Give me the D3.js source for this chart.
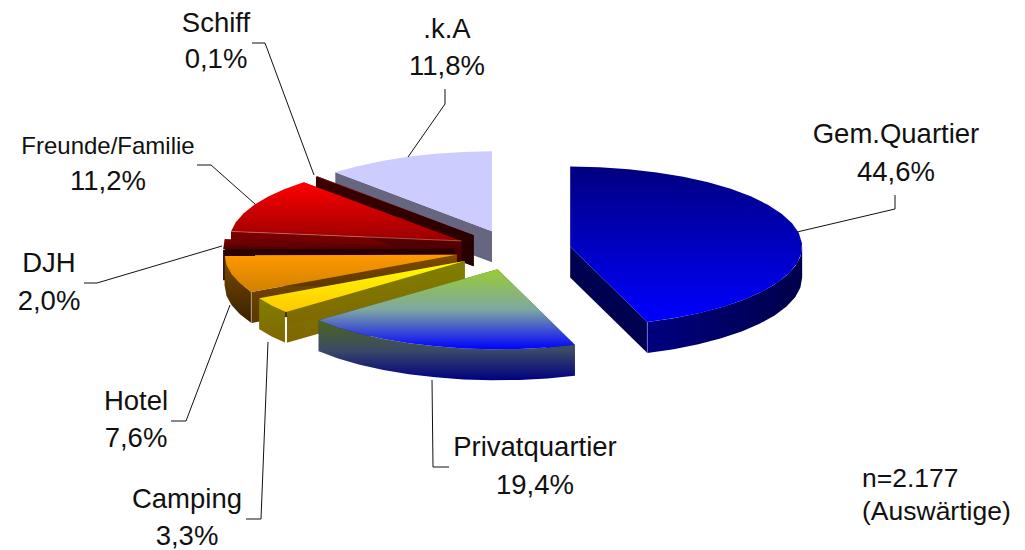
<!DOCTYPE html>
<html>
<head>
<meta charset="utf-8">
<style>
  html, body { margin: 0; padding: 0; background: #fff; }
  svg { display: block; }
  text { font-family: "Liberation Sans", Arial, sans-serif; fill: #111; }
</style>
<script src="https://cdn.jsdelivr.net/npm/d3@7/dist/d3.min.js"></script>
</head>
<body>
<svg id="chart" width="1025" height="550"></svg>
<script>
// Unterkunftsarten der auswärtigen Besucher, Anteile in Prozent
const categories = ["Gem.Quartier", "Privatquartier", "Camping", "Hotel", "DJH", "Freunde/Familie", "Schiff", ".k.A"];
const shares = [44.6, 19.4, 3.3, 7.6, 2.0, 11.2, 0.1, 11.8];
const shareLabels = ["44,6%", "19,4%", "3,3%", "7,6%", "2,0%", "11,2%", "0,1%", "11,8%"];
const sampleNote = ["n=2.177", "(Auswärtige)"];

// Surface shading per slice: top gradient, cut wall gradient, outer rim gradient
const topColors = [["#000080", "#0000ff"], ["#99cc33", "#7fa8a0", "#0000ff"], ["#ffff00", "#ffc800"], ["#ff9900", "#d08000"],
                   ["#800000", "#4a0000"], ["#ff0000", "#990000"], ["#800000", "#800000"], ["#ccccff", "#ccccff"]];
const wallColors = [["#000050", "#000050"], ["#4d6619", "#000080"], ["#808000", "#806600"], ["#7f4c00", "#5c3700"],
                    ["#2a0000", "#2a0000"], ["#800000", "#400000"], ["#3a0000", "#240000"], ["#666680", "#666680"]];
const rimColors = [["#000080", "#00004a"], ["#4d6619", "#3a4a66", "#000080"], ["#808000", "#806600"], ["#7f4c00", "#382100"],
                   ["#4a0000", "#2a0000"], ["#800000", "#400000"], ["#3a0000", "#240000"], ["#666680", "#666680"]];
const rimHorizontal = [true, false, false, false, false, false, false, false];
const cornerColors = ["#6a6ad8", null, "#ffffff", "#b09a80", null, null, null, null];
const cornerCaps = [0, 0, 5, 0, 0, 0, 0, 0];
const ridgeColors = [null, null, null, null, null, "#c07070", null, null];

// Slices are painted back to front
const paintOrder = [0, 7, 6, 5, 4, 3, 2, 1];

// Projection of the tilted pie
const center = { x: 513, y: 250 };
const radiusX = 232, radiusY = 80, depth = 31, explode = 0.25, rimStep = Math.PI / 24;

// Label placement, leader polylines
const labelCenters = [896, 535, 187, 136, 49, 108, 216, 447];
const labelBaselines = [[143, 181], [456, 494], [508, 545], [410, 447], [272, 310], [154, 190], [32, 68], [38, 75]];
const labelSizes = [27.5, 27.5, 27.5, 27.5, 27.5, 24, 27.5, 27.5];
const leaders = [
  [[797, 232], [895, 209], [895, 195]],
  [[432, 380], [433, 467], [449, 467]],
  [[268, 342], [261, 519], [246, 519]],
  [[230, 305], [186, 421], [171, 421]],
  [[222, 246], [97, 283], [84, 283]],
  [[255, 204], [211, 165], [197, 165]],
  [[314, 175], [265, 43], [252, 43]],
  [[408, 157], [445, 104], [445, 89]]
];

const svg = d3.select("#chart");
const defs = svg.append("defs");

const arcs = d3.pie().sort(null).value(d => d)(shares);
const xAt = d3.scaleLinear().domain([-1, 1]).range([-radiusX, radiusX]);
const yAt = d3.scaleLinear().domain([-1, 1]).range([-radiusY, radiusY]);
const poly = d3.line();

function gradient(id, colors, horizontal) {
  const g = defs.append("linearGradient").attr("id", id)
    .attr("x1", 0).attr("y1", 0)
    .attr("x2", horizontal ? 1 : 0).attr("y2", horizontal ? 0 : 1);
  colors.forEach((c, k) => {
    g.append("stop").attr("offset", k / (colors.length - 1)).attr("stop-color", c);
  });
  return `url(#${id})`;
}

function anglesBetween(a0, a1) {
  const n = Math.max(1, Math.ceil((a1 - a0) / rimStep));
  return d3.range(n + 1).map(i => a0 + (a1 - a0) * i / n);
}

paintOrder.forEach(i => {
  const arc = arcs[i];
  const mid = (arc.startAngle + arc.endAngle) / 2;
  const apex = {
    x: center.x + explode * xAt(Math.sin(mid)),
    y: center.y - explode * yAt(Math.cos(mid))
  };
  const rimPoint = a => [apex.x + xAt(Math.sin(a)), apex.y - yAt(Math.cos(a))];
  const down = p => [p[0], p[1] + depth];
  const apexPt = [apex.x, apex.y];
  const group = svg.append("g").attr("class", "slice").attr("data-name", categories[i]);

  const wallFill = gradient(`wall${i}`, wallColors[i], false);
  [arc.startAngle, arc.endAngle].forEach(a => {
    const p = rimPoint(a);
    group.append("path")
      .attr("d", poly([apexPt, p, down(p), down(apexPt)]) + "Z")
      .attr("fill", wallFill);
  });

  // Outer rim is only visible on the half facing the viewer
  const from = Math.max(arc.startAngle, Math.PI / 2);
  const to = Math.min(arc.endAngle, 3 * Math.PI / 2);
  if (to > from) {
    const upper = anglesBetween(from, to).map(rimPoint);
    group.append("path")
      .attr("d", poly(upper.concat(upper.map(down).reverse())) + "Z")
      .attr("fill", gradient(`rim${i}`, rimColors[i], rimHorizontal[i]));
    if (cornerColors[i]) {
      const cornerAngle = Math.abs(arc.startAngle - Math.PI) < Math.abs(arc.endAngle - Math.PI) ? arc.startAngle : arc.endAngle;
      const p = rimPoint(cornerAngle);
      const capEnd = [p[0], p[1] + cornerCaps[i]];
      group.append("path")
        .attr("d", poly([capEnd, down(p)]))
        .attr("stroke", cornerColors[i])
        .attr("stroke-width", i === 2 ? 2 : 1)
        .attr("fill", "none");
      if (cornerCaps[i]) {
        group.append("path")
          .attr("d", poly([p, capEnd]))
          .attr("stroke", "#4a3000")
          .attr("stroke-width", 2)
          .attr("fill", "none");
      }
    }
  }

  group.append("path")
    .attr("d", poly([apexPt].concat(anglesBetween(arc.startAngle, arc.endAngle).map(rimPoint))) + "Z")
    .attr("fill", gradient(`top${i}`, topColors[i], false));

  // Thin light seam where the top surface meets the cut wall
  if (ridgeColors[i]) {
    group.append("path")
      .attr("d", poly([rimPoint(arc.startAngle), apexPt]))
      .attr("stroke", ridgeColors[i])
      .attr("stroke-width", 0.7)
      .attr("fill", "none");
  }
});

// Leader lines
svg.append("g").selectAll("path").data(leaders).join("path")
  .attr("d", d => poly(d))
  .attr("fill", "none")
  .attr("stroke", "#111")
  .attr("stroke-width", 1);

// Category and share labels
const labels = svg.append("g").selectAll("g").data(categories).join("g");
labels.append("text")
  .attr("x", (d, i) => labelCenters[i]).attr("y", (d, i) => labelBaselines[i][0])
  .attr("text-anchor", "middle").attr("font-size", (d, i) => labelSizes[i])
  .text(d => d);
labels.append("text")
  .attr("x", (d, i) => labelCenters[i]).attr("y", (d, i) => labelBaselines[i][1])
  .attr("text-anchor", "middle").attr("font-size", 27.5)
  .text((d, i) => shareLabels[i]);

// Sample size note
svg.append("g").selectAll("text").data(sampleNote).join("text")
  .attr("x", 862).attr("y", (d, i) => 487 + i * 33)
  .attr("font-size", 26.5)
  .text(d => d);
</script>
</body>
</html>
